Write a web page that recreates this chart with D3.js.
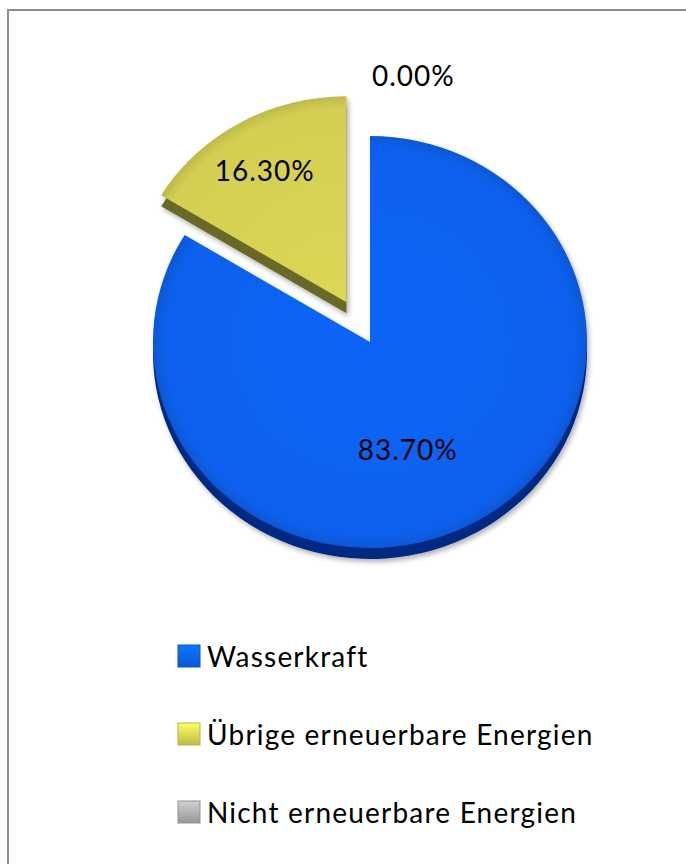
<!DOCTYPE html>
<html>
<head>
<meta charset="utf-8">
<script src="https://cdn.jsdelivr.net/npm/d3@7"></script>
<style>
  body { margin: 0; background: #fff; }
  text { font-family: Lato, "Open Sans", sans-serif; fill: #000; }
</style>
</head>
<body>
<div id="chart"></div>
<script>
const width = 686
const height = 864

// data
const categories = ["Wasserkraft", "Übrige erneuerbare Energien", "Nicht erneuerbare Energien"]
const values = [83.7, 16.3, 0]
const colors = ["#0a61ee", "#d4cf52", "#a8a8a8"]
const sideColors = ["#032c82", "#696826", "#555555"]

// layout
const cx = 370, cy = 342
const rx = 217, ry = 206
const depth = 11
const squash = ry / rx
const explode = [0, 48, 0]
const labelNudge = [[-26, 0], [-18, -23], [2, 0]]
const fmt = d => d3.format(".2f")(d) + "%"

const svg = d3.select("#chart").append("svg")
    .attr("width", width)
    .attr("height", height)

const defs = svg.append("defs")
const shadow = defs.append("filter").attr("id", "shadow")
    .attr("x", "-20%").attr("y", "-20%").attr("width", "140%").attr("height", "140%")
shadow.append("feDropShadow")
    .attr("dx", 2).attr("dy", 3).attr("stdDeviation", 2.5)
    .attr("flood-color", "#000").attr("flood-opacity", 0.3)

colors.forEach((c, i) => {
    // shading centred on the pie centre, so every slice gets the same bevel
    let g = defs.append("radialGradient").attr("id", "grad" + i)
        .attr("gradientUnits", "userSpaceOnUse")
        .attr("cx", 0).attr("cy", 0).attr("r", rx)
    g.append("stop").attr("offset", "0%").attr("stop-color", d3.color(c).brighter(0.1))
    g.append("stop").attr("offset", "94%").attr("stop-color", c)
    g.append("stop").attr("offset", "100%").attr("stop-color", d3.color(c).darker(0.3))
    let l = defs.append("linearGradient").attr("id", "icon" + i)
        .attr("x1", 0).attr("y1", 0).attr("x2", 0).attr("y2", 1)
    l.append("stop").attr("offset", "0%").attr("stop-color", d3.color(c).brighter(0.6))
    l.append("stop").attr("offset", "100%").attr("stop-color", d3.color(c).darker(0.3))
})

// frame
svg.append("rect")
    .attr("x", 8).attr("y", 10)
    .attr("width", width + 20).attr("height", height + 20)
    .attr("fill", "#fff")
    .attr("stroke", "#8c8c8c").attr("stroke-width", 2)

const pie = d3.pie().sort(null).value(d => d)
const arcs = pie(values).map((d, i) => {
    d.index = i
    d.mid = (d.startAngle + d.endAngle) / 2
    d.ox = Math.sin(d.mid) * explode[i]
    d.oy = -Math.cos(d.mid) * explode[i] * squash
    return d
})
const arc = d3.arc().innerRadius(0).outerRadius(rx)

const pieGroup = svg.append("g").attr("filter", "url(#shadow)")
const visible = arcs.filter(d => d.value > 0)

// extruded sides
pieGroup.selectAll("path.side").data(visible).enter().append("path")
    .attr("class", "side")
    .attr("transform", d => `translate(${cx + d.ox}, ${cy + d.oy + depth}) scale(1, ${squash})`)
    .attr("d", arc)
    .attr("fill", d => sideColors[d.index])

// top faces
pieGroup.selectAll("path.top").data(visible).enter().append("path")
    .attr("class", "top")
    .attr("transform", d => `translate(${cx + d.ox}, ${cy + d.oy}) scale(1, ${squash})`)
    .attr("d", arc)
    .attr("fill", d => `url(#grad${d.index})`)

// data labels
const labelR = d => d.value > 0 ? rx * 0.6 : 280
svg.selectAll("text.label").data(arcs).enter().append("text")
    .attr("class", "label")
    .attr("x", d => cx + d.ox + Math.sin(d.mid) * labelR(d) + labelNudge[d.index][0])
    .attr("y", d => cy + d.oy - Math.cos(d.mid) * labelR(d) * squash + labelNudge[d.index][1])
    .attr("dy", "0.35em")
    .attr("text-anchor", d => d.value > 0 ? "middle" : "start")
    .attr("font-size", 28)
    .attr("letter-spacing", 1)
    .text(d => fmt(d.value))

// legend
const legend = svg.append("g").attr("transform", "translate(178, 645)")
const rows = legend.selectAll("g").data(categories).enter().append("g")
    .attr("transform", (d, i) => `translate(0, ${i * 78})`)
rows.append("rect")
    .attr("width", 22).attr("height", 22)
    .attr("fill", (d, i) => `url(#icon${i})`)
    .attr("stroke", (d, i) => d3.color(colors[i]).darker(0.4))
    .attr("stroke-width", 1)
rows.append("text")
    .attr("x", 29).attr("y", 22)
    .attr("font-size", 28)
    .attr("letter-spacing", 1.2)
    .text(d => d)
</script>
</body>
</html>
